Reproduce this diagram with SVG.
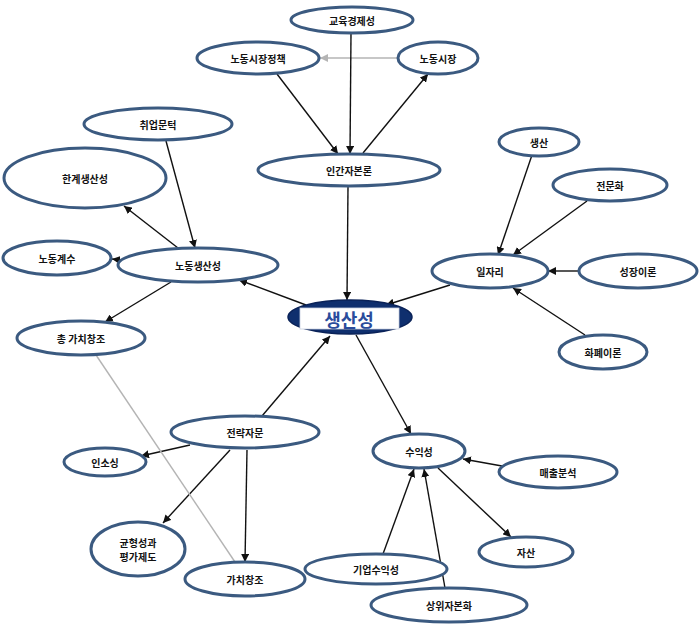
<svg xmlns="http://www.w3.org/2000/svg" width="700" height="626" viewBox="0 0 700 626">
<style>
.n{fill:#fff;stroke:#3b5a80;stroke-width:3}
.t{font-family:"Noto Sans CJK KR","Noto Sans",sans-serif;font-size:10px;font-weight:bold;fill:#111;text-anchor:middle;dominant-baseline:central}
.c{stroke:#111;stroke-width:1.4;fill:none;marker-end:url(#ah)}
.g{stroke:#b4b4b4;stroke-width:1.4;fill:none}
</style>
<defs>
<marker id="ah" viewBox="0 0 10 10" refX="10" refY="5" markerWidth="8" markerHeight="8" markerUnits="userSpaceOnUse" orient="auto"><path d="M0,0L10,5L0,10z" fill="#111"/></marker>
<marker id="ag" viewBox="0 0 10 10" refX="10" refY="5" markerWidth="8" markerHeight="8" markerUnits="userSpaceOnUse" orient="auto"><path d="M0,0L10,5L0,10z" fill="#b4b4b4"/></marker>
</defs>
<rect width="700" height="626" fill="#fff"/>
<g id="connectors">
<line class="g" x1="398" y1="58" x2="320" y2="58" marker-end="url(#ag)"/>
<line class="c" x1="277" y1="74" x2="338" y2="154"/>
<line class="c" x1="351" y1="33" x2="350" y2="154"/>
<line class="c" x1="363" y1="153" x2="428" y2="74"/>
<line class="c" x1="348" y1="187" x2="347" y2="300"/>
<line class="c" x1="166" y1="141" x2="195" y2="248"/>
<line class="c" x1="178" y1="248" x2="124" y2="206"/>
<line class="c" x1="120" y1="260" x2="112" y2="259"/>
<line class="c" x1="171" y1="282" x2="105" y2="322"/>
<line class="c" x1="306" y1="305" x2="239" y2="280"/>
<line class="c" x1="532" y1="155" x2="498" y2="255"/>
<line class="c" x1="587" y1="201" x2="513" y2="255"/>
<line class="c" x1="579" y1="271" x2="548" y2="271"/>
<line class="c" x1="585" y1="335" x2="513" y2="288"/>
<line class="c" x1="450" y1="285" x2="386" y2="305"/>
<line class="c" x1="262" y1="416" x2="330" y2="336"/>
<line class="c" x1="190" y1="445" x2="141" y2="456"/>
<line class="c" x1="230" y1="450" x2="163" y2="523"/>
<line class="c" x1="247" y1="450" x2="245" y2="562"/>
<line class="g" x1="96" y1="355" x2="235" y2="562"/>
<line class="c" x1="356" y1="335" x2="411" y2="434"/>
<line class="c" x1="502" y1="466" x2="463" y2="459"/>
<line class="c" x1="438" y1="468" x2="511" y2="537"/>
<line class="c" x1="383" y1="554" x2="414" y2="469"/>
<line class="c" x1="445" y1="588" x2="424" y2="469"/>
</g>
<g id="n-education"><ellipse class="n" cx="352" cy="20" rx="61" ry="13"/><text class="t" x="352" y="20">교육경제성</text></g>
<g id="n-laborpolicy"><ellipse class="n" cx="258" cy="58" rx="61" ry="16"/><text class="t" x="258" y="58">노동시장정책</text></g>
<g id="n-labormarket"><ellipse class="n" cx="438" cy="58" rx="40" ry="16"/><text class="t" x="438" y="58">노동시장</text></g>
<g id="n-humancapital"><ellipse class="n" cx="349" cy="170" rx="91" ry="16"/><text class="t" x="349" y="170">인간자본론</text></g>
<g id="n-employment"><ellipse class="n" cx="158" cy="124" rx="74" ry="16"/><text class="t" x="158" y="124">취업문턱</text></g>
<g id="n-marginal"><ellipse class="n" cx="85" cy="178" rx="81" ry="30" stroke-width="4"/><text class="t" x="85" y="178">한계생산성</text></g>
<g id="n-laborcoef"><ellipse class="n" cx="57" cy="258" rx="54" ry="17"/><text class="t" x="57" y="258">노동계수</text></g>
<g id="n-laborprod"><ellipse class="n" cx="198" cy="265" rx="80" ry="17"/><text class="t" x="198" y="265">노동생산성</text></g>
<g id="n-totalvalue"><ellipse class="n" cx="81" cy="338" rx="64" ry="17"/><text class="t" x="81" y="338">총 가치창조</text></g>
<g id="n-production"><ellipse class="n" cx="539" cy="142" rx="40" ry="14"/><text class="t" x="539" y="142">생산</text></g>
<g id="n-special"><ellipse class="n" cx="610" cy="185" rx="57" ry="16"/><text class="t" x="610" y="185">전문화</text></g>
<g id="n-jobs"><ellipse class="n" cx="490" cy="271" rx="58" ry="17"/><text class="t" x="490" y="271">일자리</text></g>
<g id="n-growth"><ellipse class="n" cx="638" cy="271" rx="59" ry="17"/><text class="t" x="638" y="271">성장이론</text></g>
<g id="n-money"><ellipse class="n" cx="603" cy="352" rx="44" ry="17"/><text class="t" x="603" y="352">화폐이론</text></g>
<g id="n-productivity"><ellipse cx="350" cy="317" rx="62" ry="17" fill="#0f2f6e" stroke="#0a2258" stroke-width="1.5"/><rect x="300" y="308" width="99" height="21" fill="#fff" stroke="#c8d0e0" stroke-width="0.8"/><text x="349" y="319" font-family="Noto Sans CJK KR,Noto Sans,sans-serif" font-size="18" font-weight="bold" fill="#2a4c9c" text-anchor="middle" dominant-baseline="central">생산성</text></g>
<g id="n-strategy"><ellipse class="n" cx="245" cy="432" rx="74" ry="16"/><text class="t" x="245" y="432">전략자문</text></g>
<g id="n-insourcing"><ellipse class="n" cx="105" cy="462" rx="41" ry="14"/><text class="t" x="105" y="462">인소싱</text></g>
<g id="n-bsc"><ellipse class="n" cx="138" cy="549" rx="47" ry="27"/><text class="t" x="138" y="542">균형성과</text><text class="t" x="138" y="556">평가제도</text></g>
<g id="n-valuecreation"><ellipse class="n" cx="245" cy="579" rx="60" ry="17"/><text class="t" x="245" y="579">가치창조</text></g>
<g id="n-profit"><ellipse class="n" cx="419" cy="451" rx="46" ry="17"/><text class="t" x="419" y="451">수익성</text></g>
<g id="n-sales"><ellipse class="n" cx="558" cy="472" rx="59" ry="16"/><text class="t" x="558" y="472">매출분석</text></g>
<g id="n-assets"><ellipse class="n" cx="526" cy="552" rx="47" ry="15"/><text class="t" x="526" y="552">자산</text></g>
<g id="n-corpprofit"><ellipse class="n" cx="376" cy="569" rx="71" ry="15"/><text class="t" x="376" y="569">기업수익성</text></g>
<g id="n-capital"><ellipse class="n" cx="449" cy="605" rx="78" ry="17"/><text class="t" x="449" y="605">상위자본화</text></g>
</svg>
